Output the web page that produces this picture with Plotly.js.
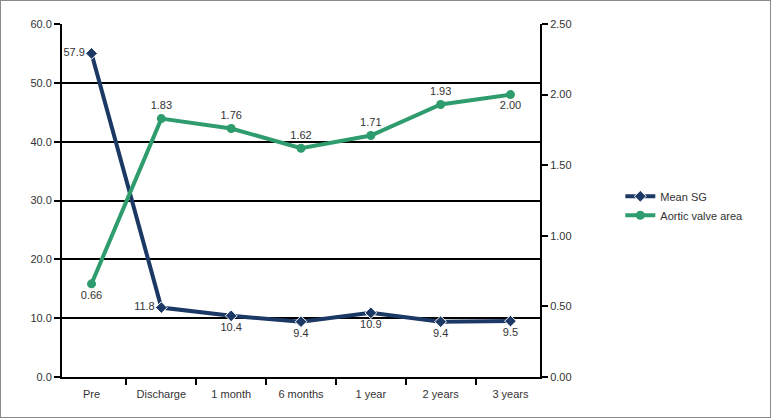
<!DOCTYPE html>
<html><head><meta charset="utf-8">
<script src="https://cdn.plot.ly/plotly-3.0.1.min.js"></script>
<style>
html,body{margin:0;padding:0;background:#fff;}
#c{width:771px;height:418px;box-sizing:border-box;border:1px solid #8a8a8a;}
</style></head><body><div id="c"></div>
<script>
const categories = ["Pre","Discharge","1 month","6 months","1 year","2 years","3 years"];
const meanSG = [55.0, 11.8, 10.4, 9.4, 10.9, 9.4, 9.5];
const meanSGLabels = ["57.9","11.8","10.4","9.4","10.9","9.4","9.5"];
const ava = [0.66, 1.83, 1.76, 1.62, 1.71, 1.93, 2.00];
const avaLabels = ["0.66","1.83","1.76","1.62","1.71","1.93","2.00"];
const leftTicks = [0,10,20,30,40,50,60];
const leftTickText = ["0.0","10.0","20.0","30.0","40.0","50.0","60.0"];
const rightTicks = [0,0.5,1,1.5,2,2.5];
const rightTickText = ["0.00","0.50","1.00","1.50","2.00","2.50"];

const navy = "#1c3864", green = "#2e9c6c";
const font = {family:"Liberation Sans, Arial, sans-serif", size:11, color:"#333"};

const traces = [
 {x:categories, y:meanSG, name:"Mean SG", type:"scatter", mode:"lines+markers+text",
  text:meanSGLabels,
  textposition:["middle left","middle left","bottom center","bottom center","bottom center","bottom center","bottom center"],
  textfont:{family:font.family,size:11,color:"#333"},
  line:{color:navy,width:4}, marker:{symbol:"diamond",size:9,color:navy,line:{color:"#fff",width:1}},
  cliponaxis:false},
 {x:categories, y:ava, name:"Aortic valve area", type:"scatter", mode:"lines+markers+text", yaxis:"y2",
  text:avaLabels,
  textposition:["bottom center","top center","top center","top center","top center","top center","bottom center"],
  textfont:{family:font.family,size:11,color:"#333"},
  line:{color:green,width:4}, marker:{symbol:"circle",size:9,color:green},
  cliponaxis:false}
];

const layout = {
 width:769, height:416,
 margin:{l:61,r:230,t:23,b:40},
 paper_bgcolor:"#fff", plot_bgcolor:"#fff",
 font:font,
 showlegend:true,
 legend:{x:1.168,y:0.485,xanchor:"left",yanchor:"middle",font:{family:font.family,size:11,color:"#333"},
   bgcolor:"rgba(0,0,0,0)",itemwidth:30,tracegroupgap:0},
 xaxis:{type:"category", showline:true, linecolor:"#000", linewidth:2, showgrid:false,
   ticks:"outside", tickson:"boundaries", ticklen:6, tickwidth:2, tickcolor:"#000",
   ticklabelstandoff:6,
   tickfont:{family:font.family,size:11,color:"#333"}, fixedrange:true},
 yaxis:{range:[0,60], tickvals:leftTicks, ticktext:leftTickText, showline:true, linecolor:"#000", linewidth:2,
   showgrid:true, gridcolor:"#000", gridwidth:2, zeroline:false,
   ticks:"outside", ticklen:6, tickwidth:2, tickcolor:"#000",
   tickfont:{family:font.family,size:11,color:"#333"}},
 yaxis2:{range:[0,2.5], tickvals:rightTicks, ticktext:rightTickText, overlaying:"y", side:"right",
   showline:true, linecolor:"#000", linewidth:2, showgrid:false, zeroline:false,
   ticks:"outside", ticklen:6, tickwidth:2, tickcolor:"#000",
   tickfont:{family:font.family,size:11,color:"#333"}}
};
Plotly.newPlot("c", traces, layout, {displayModeBar:false, staticPlot:true});
</script></body></html>
